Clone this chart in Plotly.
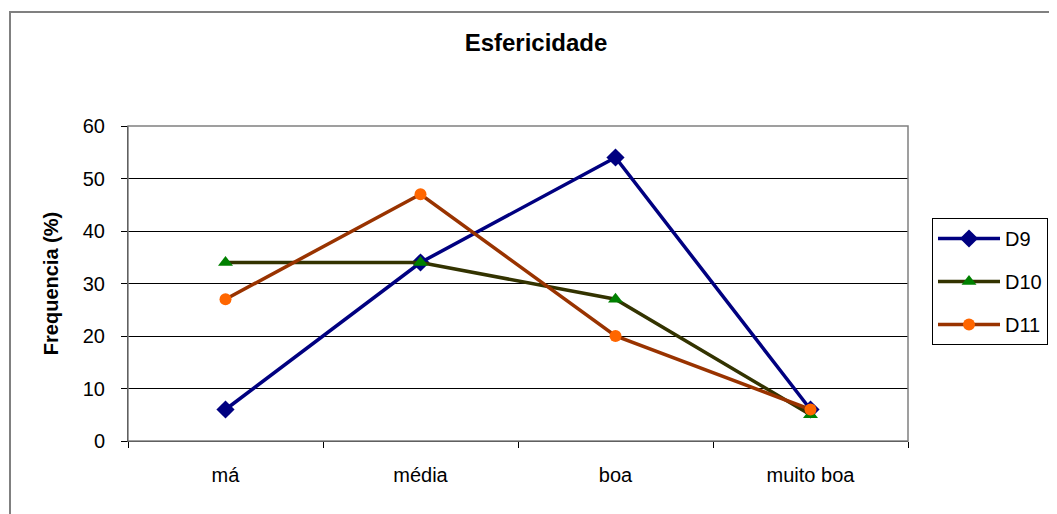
import plotly.graph_objects as go

categories = ["má", "média", "boa", "muito boa"]
d9 = [6, 34, 54, 6]
d10 = [34, 34, 27, 5]
d11 = [27, 47, 20, 6]

# page is offset by the 8px body margin; coordinates below are figure pixels
W, H = 1049, 506
L, R, T, B = 120, 900, 118, 433

def px(x):
    return (x - L) / (R - L)

def py(y):
    return (B - y) / (B - T)

font = "Liberation Sans, Arial, sans-serif"

fig = go.Figure()
fig.add_trace(go.Scatter(x=categories, y=d9, name="D9", mode="lines+markers", legendgroup="a",
                         line=dict(color="#000080", width=3.5),
                         marker=dict(symbol="diamond", size=14, color="#000080")))
fig.add_trace(go.Scatter(x=categories, y=d10, name="D10", mode="lines+markers", legendgroup="b",
                         line=dict(color="#333300", width=3.5),
                         marker=dict(symbol="triangle-up", size=13, color="#008000")))
fig.add_trace(go.Scatter(x=categories, y=d11, name="D11", mode="lines+markers", legendgroup="c",
                         line=dict(color="#993300", width=3.5),
                         marker=dict(symbol="circle", size=12, color="#FF6600")))

fig.update_layout(
    width=W, height=H,
    margin=dict(l=L, r=W - R, t=T, b=H - B, autoexpand=False),
    paper_bgcolor="white", plot_bgcolor="white",
    font=dict(family=font, size=20, color="black"),
    title=dict(text="<b>Esfericidade</b>", x=528 / W, xref="container", xanchor="center",
               y=1 - 35 / H, yref="container", yanchor="middle",
               font=dict(family=font, size=24, color="black")),
    showlegend=True,
    legend=dict(x=px(924), y=py(210), xanchor="left", yanchor="top",
                bordercolor="black", borderwidth=1, bgcolor="white",
                tracegroupgap=14, font=dict(family=font, size=20, color="black"),
                itemwidth=62),
    xaxis=dict(type="category", range=[-0.5, 3.5], showgrid=False,
               showline=True, linecolor="black", linewidth=1,
               ticks="outside", tickson="boundaries", ticklen=6, tickcolor="black",
               ticklabelstandoff=16,
               tickfont=dict(family=font, size=20), zeroline=False),
    yaxis=dict(range=[0, 60], dtick=10, showgrid=True, gridcolor="black", gridwidth=1,
               showline=True, linecolor="black", linewidth=1,
               ticks="outside", ticklen=6, tickcolor="black", ticklabelstandoff=12,
               tickfont=dict(family=font, size=20), zeroline=False,
               title=dict(text="<b>Frequencia (%)</b>", standoff=18,
                          font=dict(family=font, size=20))),
    shapes=[
        dict(type="rect", xref="paper", yref="paper", x0=0, x1=1, y0=0, y1=1,
             line=dict(color="#808080", width=1.5), layer="above"),
        dict(type="rect", xref="paper", yref="paper", x0=px(2), x1=px(1060), y0=py(520), y1=py(4),
             line=dict(color="#808080", width=2)),
    ],
)

fig.write_html("out.html")
